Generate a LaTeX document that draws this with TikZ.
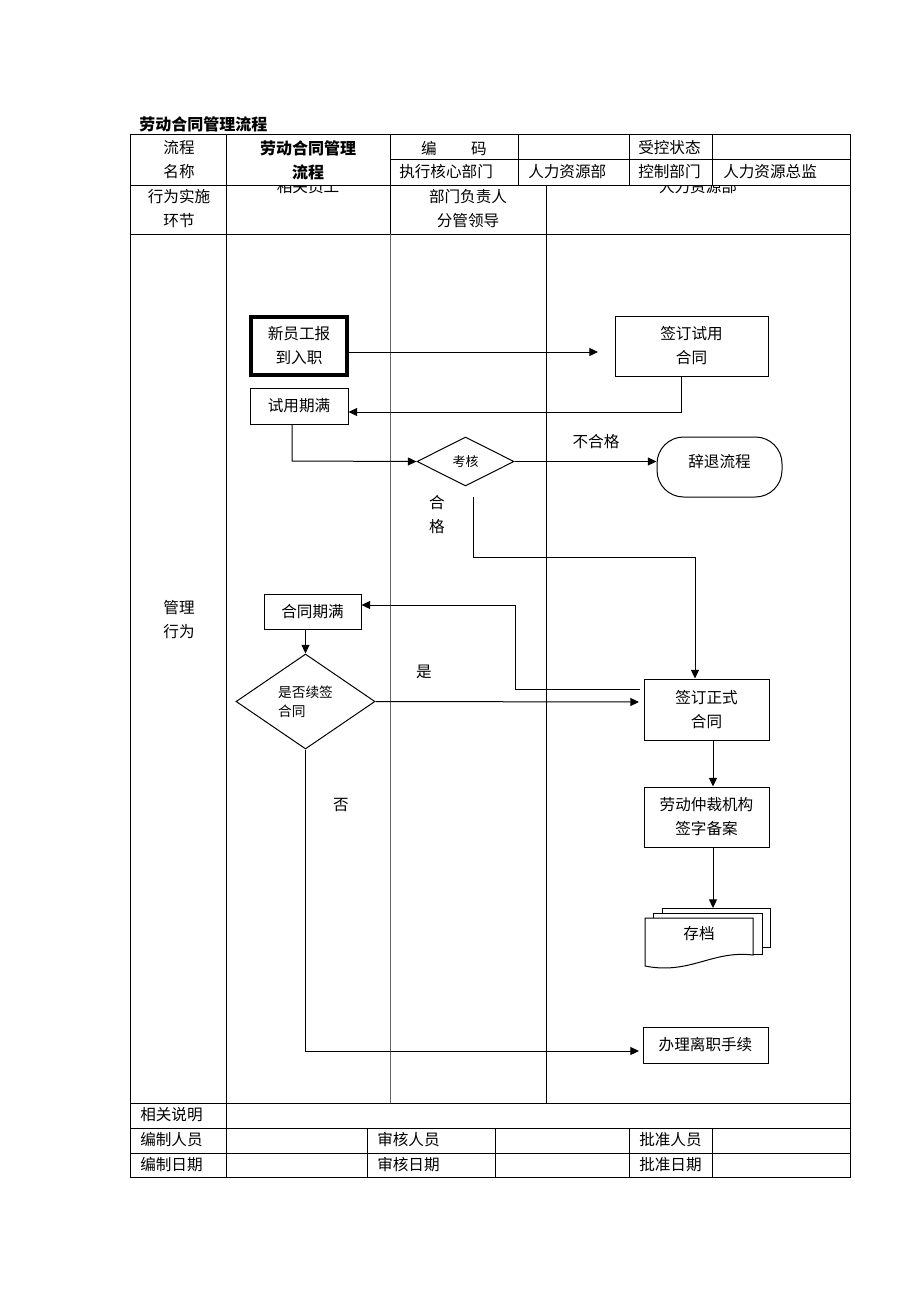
\documentclass[tikz,border=0pt]{standalone}
\usepackage{fontspec}
\setmainfont{Noto Sans CJK SC}
\usetikzlibrary{shapes.geometric,arrows.meta}
\begin{document}
\begin{tikzpicture}[x=0.75pt,y=-0.75pt,
  every node/.style={font=\fontsize{11.7pt}{18pt}\selectfont, inner sep=0pt, align=center},
  bfont/.style={font=\fontsize{12pt}{18pt}\selectfont\bfseries},
  sfont/.style={font=\fontsize{9.75pt}{14pt}\selectfont},
  box/.style={draw, line width=0.75pt, align=center},
  arr/.style={-{Triangle[length=6.5pt,width=6pt]}, line width=0.75pt},
  tline/.style={line width=0.75pt},
  lane/.style={line width=0.75pt, draw=black!60}]
\useasboundingbox (0,0) rectangle (920,1302);
\fill[white] (0,0) rectangle (920,1302);

% ---------- title ----------
\node[bfont, anchor=west] (title) at (139,124) {劳动合同管理流程};

% ---------- table frame ----------
\draw[tline] (130,135) rectangle (850,1177);
\draw[tline] (390,160) -- (850,160);
\draw[tline] (130,185) -- (850,185);
\draw[tline] (130,234) -- (850,234);
\draw[tline] (130,1103) -- (850,1103);
\draw[tline] (130,1128) -- (850,1128);
\draw[tline] (130,1153) -- (850,1153);
\draw[tline] (226,135) -- (226,1177);
\draw[tline] (390,135) -- (390,234);
\draw[lane] (390,234) -- (390,1103);
\draw[tline] (518,135) -- (518,185);
\draw[tline] (629,135) -- (629,185);
\draw[tline] (712,135) -- (712,185);
\draw[tline] (546,185) -- (546,1103);
\draw[tline] (367,1128) -- (367,1177);
\draw[tline] (495,1128) -- (495,1177);
\draw[tline] (629,1128) -- (629,1177);
\draw[tline] (712,1128) -- (712,1177);

% ---------- header texts ----------
\node (h1) at (179,148) {流程};
\node (h2) at (179,172) {名称};
\node[bfont] (h3) at (308,148) {劳动合同管理};
\node[bfont] (h4) at (308,172) {流程};
\node (h5) at (454,148) {编\hspace{2.2em}码};
\node[anchor=west] (h6) at (638,148) {受控状态};
\node[anchor=west] (h7) at (399,172) {执行核心部门};
\node[anchor=west] (h8) at (528,172) {人力资源部};
\node[anchor=west] (h9) at (638,172) {控制部门};
\node[anchor=west] (h10) at (723,172) {人力资源总监};
\node (h11) at (179,197) {行为实施};
\node (h12) at (179,221) {环节};
\node (h13) at (468,197) {部门负责人};
\node (h14) at (468,221) {分管领导};
\begin{scope}
  \clip (130,186) rectangle (850,234);
  \node (h15) at (308,187) {相关员工};
  \node (h16) at (698,187) {人力资源部};
\end{scope}
\node (h17) at (179,608) {管理};
\node (h18) at (179,632) {行为};

% ---------- footer texts ----------
\node[anchor=west] (f1) at (140,1115) {相关说明};
\node[anchor=west] (f2) at (140,1140) {编制人员};
\node[anchor=west] (f3) at (377,1140) {审核人员};
\node[anchor=west] (f4) at (639,1140) {批准人员};
\node[anchor=west] (f5) at (140,1165) {编制日期};
\node[anchor=west] (f6) at (377,1165) {审核日期};
\node[anchor=west] (f7) at (639,1165) {批准日期};

% ---------- flow nodes ----------
\node[box, line width=2.6pt, minimum width=72pt, minimum height=43.5pt] (xy) at (299,346) {新员工报\\到入职};
\node[box, minimum width=114.75pt, minimum height=45pt] (qs) at (691.5,346) {签订试用\\合同};
\node[box, minimum width=73.5pt, minimum height=27pt] (sy) at (299,406) {试用期满};
\node[draw, line width=0.75pt, diamond, sfont, minimum width=72.75pt, minimum height=36.75pt] (kh) at (465.5,461.5) {考核};
\node[box, rounded corners=20pt, minimum width=93.75pt, minimum height=45pt] (ct) at (719.5,467) {};
\node (cttext) at (719.5,462) {辞退流程};
\node[box, minimum width=72.75pt, minimum height=26.25pt] (hq) at (312.5,611.5) {合同期满};
\node[draw, line width=0.75pt, diamond, minimum width=104.25pt, minimum height=71.25pt, font=\fontsize{10.3pt}{14pt}\selectfont, align=left] (xq) at (305.5,701.5) {是否续签\\合同};
\node[box, minimum width=93.75pt, minimum height=45.75pt] (zs) at (706.5,709.5) {签订正式\\合同};
\node[box, minimum width=93.75pt, minimum height=45pt] (lc) at (706.5,817) {劳动仲裁机构\\签字备案};
\node[box, minimum width=93.75pt, minimum height=27pt] (lz) at (705.5,1045) {办理离职手续};

% 存档 (multi-document)
\filldraw[fill=white, line width=0.75pt] (662,908) rectangle (770,947);
\filldraw[fill=white, line width=0.75pt] (653,913) rectangle (762,954);
\filldraw[fill=white, line width=0.75pt] (645,918) -- (753,918) -- (753,955)
   .. controls (712,950) and (690,975) .. (645,966) -- cycle;
\node (cd) at (699,934) {存档};
\coordinate (cdtop) at (713,908);

% ---------- labels ----------
\node (l1) at (596,442) {不合格};
\node (l2) at (437,503) {合};
\node (l3) at (437,527) {格};
\node (l4) at (424,672) {是};
\node (l5) at (341,805) {否};

% ---------- connectors ----------
\coordinate (c1) at (598,352);
\draw[arr] (xy.east |- c1) -- (c1);
\coordinate (c2) at (681,412);
\draw[arr] (qs.south -| c2) -- (c2) -- (sy.east |- c2);
\coordinate (c3) at (292,461);
\draw[arr] (sy.south -| c3) -- (c3) -- (kh.west);
\draw[arr] (kh.east) -- (ct.west |- kh.east);
\coordinate (c4) at (473,497);
\coordinate (c5) at (473,557);
\coordinate (c6) at (695,557);
\draw[arr] (c4) -- (c5) -- (c6) -- (zs.north -| c6);
\coordinate (c7) at (640,689);
\coordinate (c8) at (515,689);
\coordinate (c9) at (515,605);
\draw[arr] (c7) -- (c8) -- (c9) -- (hq.east |- c9);
\draw[arr] (hq.south -| xq.north) -- (xq.north);
\coordinate (c10) at (639,702);
\draw[arr] (xq.east) -- (c10);
\coordinate (c12) at (639,1051);
\draw[arr] (xq.south) -- (xq.south |- c12) -- (c12);
\coordinate (c13) at (713,740);
\draw[arr] (zs.south -| c13) -- (lc.north -| c13);
\draw[arr] (lc.south -| cdtop) -- (cdtop);
\end{tikzpicture}
\end{document}
